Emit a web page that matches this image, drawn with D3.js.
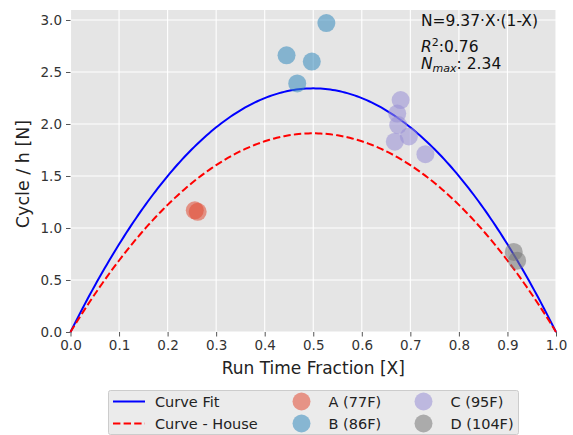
<!DOCTYPE html>
<html>
<head>
<meta charset="utf-8">
<script src="https://cdn.jsdelivr.net/npm/d3@7"></script>
<style>
  body { margin: 0; background: #fff; }
  svg text { font-family: "DejaVu Sans", sans-serif; }
</style>
</head>
<body>
<div id="chart"></div>
<script>
// fitted curves: N = k * X * (1 - X)
const curveNames = ["Curve Fit", "Curve - House"];
const curveCoef = [9.37, 7.64];
const curveColors = ["#0000ff", "#ff0000"];

// measured points per group
const groupNames = ["A (77F)", "B (86F)", "C (95F)", "D (104F)"];
const groupColors = ["#E24A33", "#348ABD", "#988ED5", "#777777"];
const groupA = [[0.256, 1.17], [0.262, 1.155]];
const groupB = [[0.527, 2.97], [0.445, 2.66], [0.497, 2.60], [0.467, 2.39]];
const groupC = [[0.680, 2.23], [0.673, 2.10], [0.675, 1.99], [0.697, 1.88], [0.668, 1.83], [0.731, 1.71]];
const groupD = [[0.913, 0.77], [0.920, 0.686]];
const groups = [groupA, groupB, groupC, groupD];

const xTicks = [0, 0.1, 0.2, 0.3, 0.4, 0.5, 0.6, 0.7, 0.8, 0.9, 1.0];
const yTicks = [0, 0.5, 1.0, 1.5, 2.0, 2.5, 3.0];

const W = 573, H = 435;
const plot = { left: 70.5, right: 556, top: 10, bottom: 332 };

const svg = d3.select("#chart").append("svg")
  .attr("width", W).attr("height", H);

const x = d3.scaleLinear().domain([0, 1]).range([plot.left, plot.right]);
const y = d3.scaleLinear().domain([0, 3.096]).range([plot.bottom, plot.top]);

// background
svg.append("rect")
  .attr("x", plot.left).attr("y", plot.top)
  .attr("width", plot.right - plot.left)
  .attr("height", plot.bottom - plot.top)
  .attr("fill", "#e5e5e5");

// grid
svg.append("g").selectAll("line").data(xTicks).join("line")
  .attr("x1", d => x(d)).attr("x2", d => x(d))
  .attr("y1", plot.top).attr("y2", plot.bottom)
  .attr("stroke", "#fff").attr("stroke-width", 1.1);
svg.append("g").selectAll("line").data(yTicks).join("line")
  .attr("x1", plot.left).attr("x2", plot.right)
  .attr("y1", d => y(d)).attr("y2", d => y(d))
  .attr("stroke", "#fff").attr("stroke-width", 1.1);

// axes
const xAxis = svg.append("g")
  .attr("transform", `translate(0,${plot.bottom})`)
  .call(d3.axisBottom(x).tickValues(xTicks).tickFormat(d3.format(".1f")).tickSize(4.5).tickPadding(4));
const yAxis = svg.append("g")
  .attr("transform", `translate(${plot.left},0)`)
  .call(d3.axisLeft(y).tickValues(yTicks).tickFormat(d3.format(".1f")).tickSize(4.5).tickPadding(4));
[xAxis, yAxis].forEach(a => {
  a.select(".domain").remove();
  a.selectAll(".tick line").attr("stroke", "#555").attr("stroke-width", 1);
  a.selectAll(".tick text").attr("fill", "#333").style("font-size", "13.5px")
    .style("font-family", "DejaVu Sans, sans-serif");
});

svg.append("text")
  .attr("x", (plot.left + plot.right) / 2).attr("y", 374)
  .attr("text-anchor", "middle").attr("fill", "#222")
  .style("font-size", "17px")
  .text("Run Time Fraction [X]");
svg.append("text")
  .attr("transform", `translate(29,${(plot.top + plot.bottom) / 2 + 3}) rotate(-90)`)
  .attr("text-anchor", "middle").attr("fill", "#222")
  .style("font-size", "17.5px")
  .text("Cycle / h [N]");

// curves
const xs = d3.range(0, 1.0001, 0.005);
const line = d3.line().x(d => x(d[0])).y(d => y(d[1]));
curveCoef.forEach((k, i) => {
  svg.append("path")
    .datum(xs.map(v => [v, k * v * (1 - v)]))
    .attr("d", line)
    .attr("fill", "none")
    .attr("stroke", curveColors[i])
    .attr("stroke-width", 2)
    .attr("stroke-dasharray", i === 1 ? "7.4,3.2" : null);
});

// points
groups.forEach((pts, i) => {
  svg.append("g").selectAll("circle").data(pts).join("circle")
    .attr("cx", d => x(d[0])).attr("cy", d => y(d[1]))
    .attr("r", 9)
    .attr("fill", groupColors[i])
    .attr("fill-opacity", 0.55);
});

// annotation
const annSize = "15.5px";
svg.append("text").attr("x", 421).attr("y", 26).attr("fill", "#111")
  .style("font-size", annSize).text("N=9.37\u00b7X\u00b7(1-X)");
const r2 = svg.append("text").attr("x", 421).attr("y", 51.5).attr("fill", "#111").style("font-size", annSize);
r2.append("tspan").style("font-style", "italic").text("R");
r2.append("tspan").attr("dy", -6).style("font-size", "11px").text("2");
r2.append("tspan").attr("dy", 6).text(":0.76");
const nm = svg.append("text").attr("x", 421).attr("y", 69).attr("fill", "#111").style("font-size", annSize);
nm.append("tspan").style("font-style", "italic").text("N");
nm.append("tspan").attr("dy", 3).style("font-style", "italic").style("font-size", "11px").text("max");
nm.append("tspan").attr("dy", -3).text(": 2.34");

// legend
const leg = svg.append("g");
leg.append("rect")
  .attr("x", 108.5).attr("y", 390.5).attr("width", 410).attr("height", 44)
  .attr("rx", 2)
  .attr("fill", "#ebebeb").attr("stroke", "#cccccc");
const rowY = [401.5, 423.5];
curveNames.forEach((n, i) => {
  leg.append("line")
    .attr("x1", 113).attr("x2", 145).attr("y1", rowY[i]).attr("y2", rowY[i])
    .attr("stroke", curveColors[i]).attr("stroke-width", 2)
    .attr("stroke-dasharray", i === 1 ? "7.4,3.2" : null);
  leg.append("text").attr("x", 155).attr("y", rowY[i] + 5.5)
    .attr("fill", "#222").style("font-size", "14.5px").text(n);
});
groupNames.forEach((n, i) => {
  const cx = i < 2 ? 301.5 : 423.5;
  const cy = rowY[i % 2];
  leg.append("circle").attr("cx", cx).attr("cy", cy).attr("r", 9)
    .attr("fill", groupColors[i]).attr("fill-opacity", 0.55);
  leg.append("text").attr("x", cx + 27).attr("y", cy + 5.5)
    .attr("fill", "#222").style("font-size", "14.5px").text(n);
});
</script>
</body>
</html>
